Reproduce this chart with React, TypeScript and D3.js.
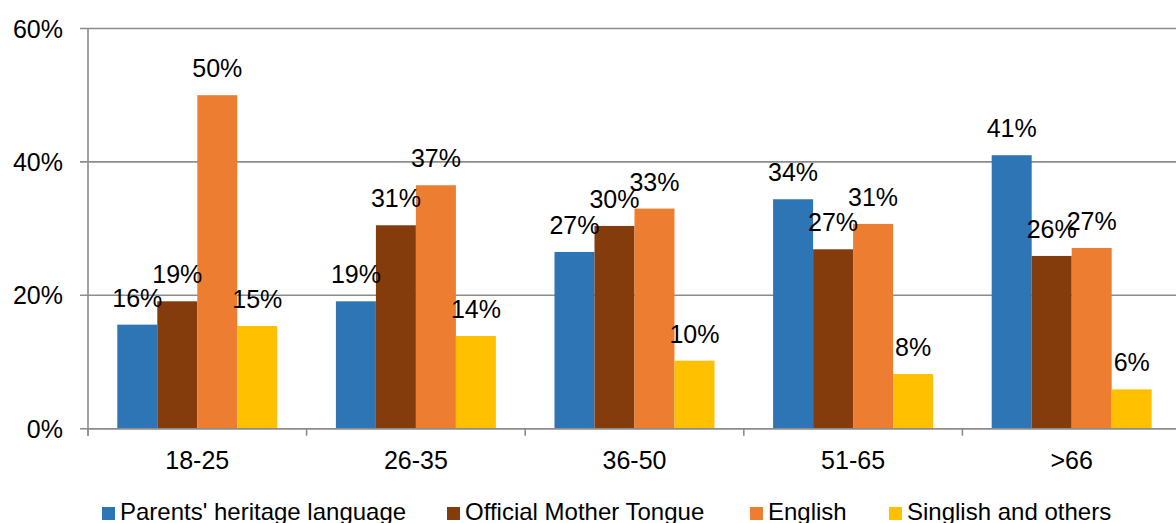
import React from "react";
import * as d3 from "d3";

const categories = ["18-25", "26-35", "36-50", "51-65", ">66"];
const seriesNames = ["Parents' heritage language", "Official Mother Tongue", "English", "Singlish and others"];
const parentsHeritage = [15.6, 19.1, 26.5, 34.4, 41.0];
const officialMotherTongue = [19.1, 30.5, 30.4, 26.9, 25.9];
const english = [50.0, 36.5, 33.0, 30.7, 27.1];
const singlish = [15.4, 13.9, 10.2, 8.2, 5.9];
const labelsParents = ["16%", "19%", "27%", "34%", "41%"];
const labelsOMT = ["19%", "31%", "30%", "27%", "26%"];
const labelsEnglish = ["50%", "37%", "33%", "31%", "27%"];
const labelsSinglish = ["15%", "14%", "10%", "8%", "6%"];
const yTicks = [0, 20, 40, 60];
const colors = ["#2E75B6", "#843C0C", "#ED7D31", "#FFC000"];

const series = [parentsHeritage, officialMotherTongue, english, singlish];
const seriesLabels = [labelsParents, labelsOMT, labelsEnglish, labelsSinglish];

const W = 1176;
const H = 523;
const left = 88;
const right = 88 + 5 * 218.6;
const top = 28.5;
const bottom = 428.7;
const font = "'Liberation Sans', Arial, sans-serif";

export default function App() {
  const x = d3.scaleBand<string>().domain(categories).range([left, right]).paddingInner(0).paddingOuter(0);
  const band = x.bandwidth();
  const barW = 40;
  const inner = d3
    .scaleBand<number>()
    .domain(d3.range(series.length))
    .range([(band - barW * 4) / 2, (band + barW * 4) / 2]);
  const y = d3.scaleLinear().domain([0, 60]).range([bottom, top]);

  const legendX = [102, 447, 750, 889];

  return (
    <svg
      width={W}
      height={H}
      style={{ position: "absolute", left: 0, top: 0, background: "#fff" }}
      fontFamily={font}
    >
      {/* gridlines */}
      {yTicks.map((t) => (
        <line key={"g" + t} x1={80} x2={W} y1={y(t)} y2={y(t)} stroke="#8c8c8c" strokeWidth={1.6} />
      ))}
      {/* y labels */}
      {yTicks.map((t) => (
        <text key={"yl" + t} x={63} y={y(t) + 9} textAnchor="end" fontSize={25} fill="#000">
          {t + "%"}
        </text>
      ))}
      {/* bars */}
      {categories.map((c, i) =>
        series.map((s, j) => (
          <rect
            key={c + j}
            x={(x(c) as number) + (inner(j) as number)}
            y={y(s[i])}
            width={inner.bandwidth()}
            height={bottom - y(s[i])}
            fill={colors[j]}
          />
        ))
      )}
      {/* left axis */}
      <line x1={left} x2={left} y1={top} y2={bottom + 7} stroke="#8c8c8c" strokeWidth={1.6} />
      {/* x axis */}
      <line x1={left} x2={W} y1={bottom} y2={bottom} stroke="#8c8c8c" strokeWidth={1.6} />
      {d3.range(categories.length + 1).map((k) => (
        <line
          key={"xt" + k}
          x1={left + k * band}
          x2={left + k * band}
          y1={bottom}
          y2={bottom + 7}
          stroke="#8c8c8c"
          strokeWidth={1.6}
        />
      ))}
      {/* data labels */}
      {categories.map((c, i) =>
        series.map((s, j) => (
          <text
            key={"dl" + c + j}
            x={(x(c) as number) + (inner(j) as number) + inner.bandwidth() / 2}
            y={y(s[i]) - 18}
            textAnchor="middle"
            fontSize={25}
            fill="#000"
          >
            {seriesLabels[j][i]}
          </text>
        ))
      )}
      {/* x labels */}
      {categories.map((c) => (
        <text
          key={"xl" + c}
          x={(x(c) as number) + band / 2}
          y={469}
          textAnchor="middle"
          fontSize={25}
          fill="#000"
        >
          {c}
        </text>
      ))}
      {/* legend */}
      {seriesNames.map((n, j) => (
        <g key={"lg" + j}>
          <rect x={legendX[j]} y={507} width={13} height={13} fill={colors[j]} />
          <text x={legendX[j] + 18} y={519.5} fontSize={24} fill="#000">
            {n}
          </text>
        </g>
      ))}
    </svg>
  );
}
